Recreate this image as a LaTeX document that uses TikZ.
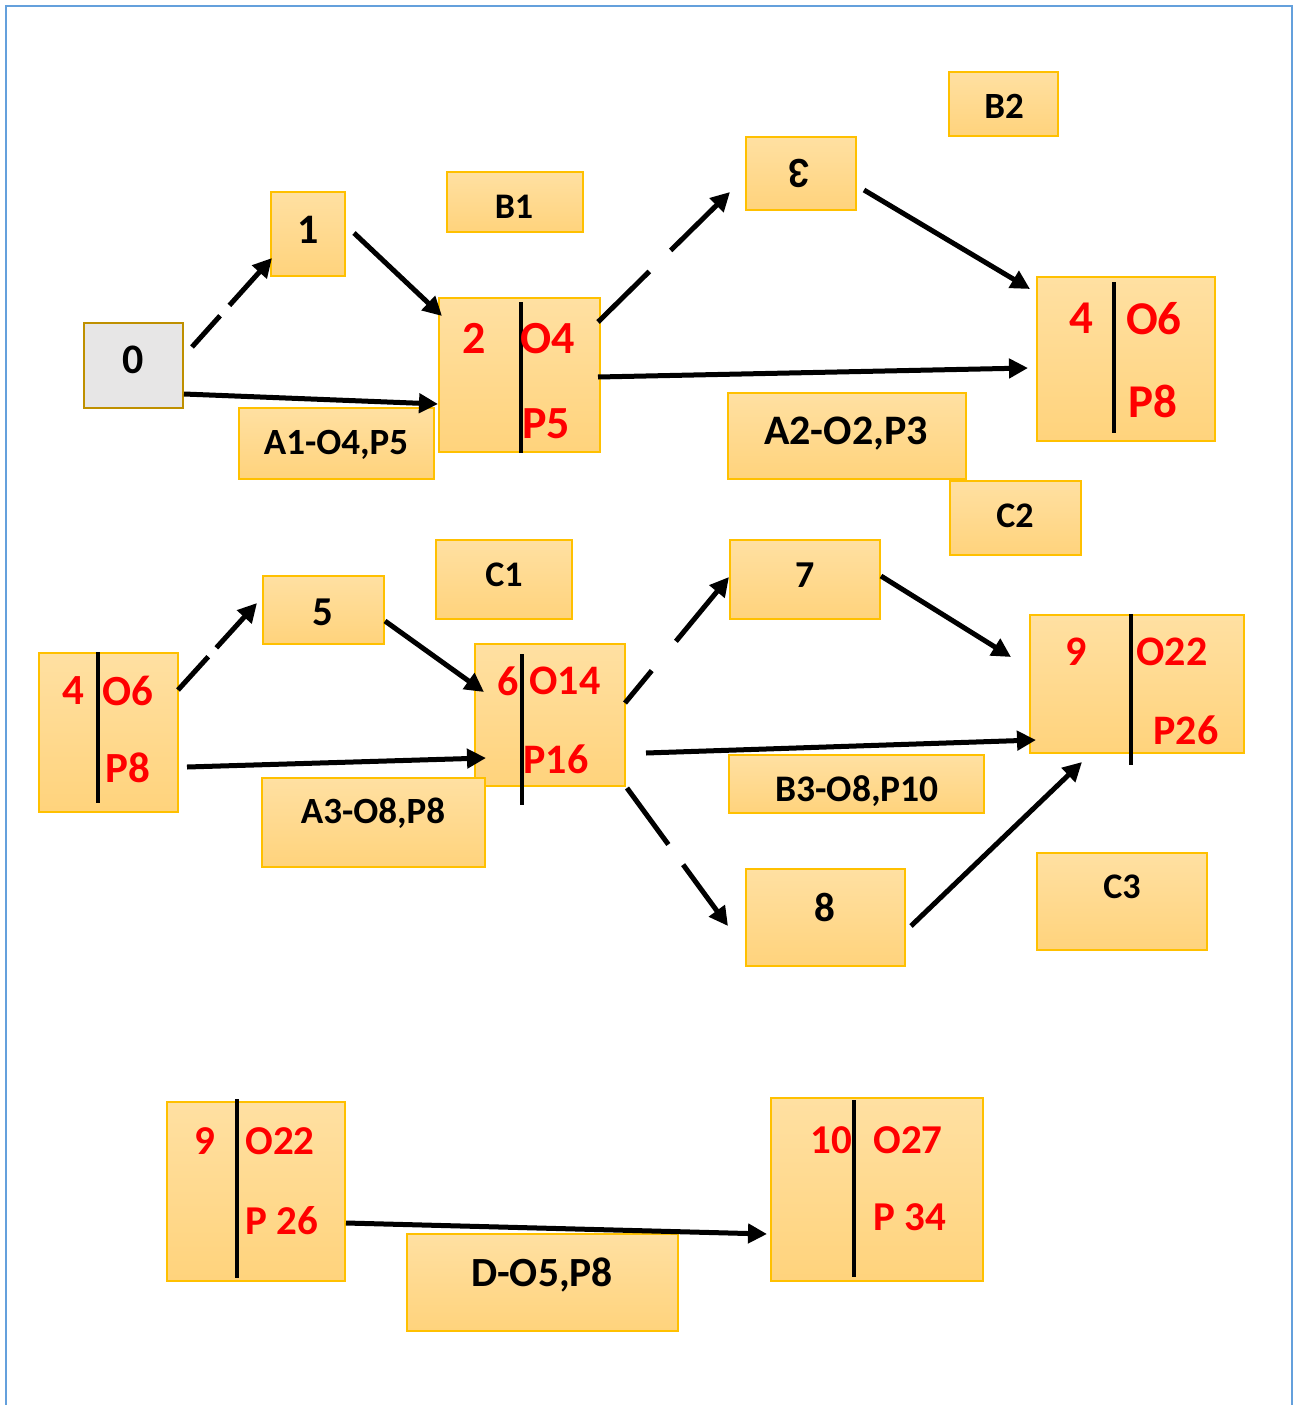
\documentclass[tikz,border=0pt]{standalone}
\usepackage{fontspec}
\setmainfont{Carlito}
\usetikzlibrary{arrows.meta,calc}
\definecolor{boxtop}{RGB}{255,224,162}
\definecolor{boxbot}{RGB}{255,211,124}
\definecolor{boxline}{RGB}{255,192,0}
\definecolor{grayfill}{RGB}{231,230,230}
\definecolor{grayline}{RGB}{191,144,0}
\definecolor{framecol}{RGB}{100,160,220}
\definecolor{redtxt}{RGB}{255,0,0}
\tikzset{
  box/.style={draw=boxline, line width=1.5pt, top color=boxtop, bottom color=boxbot, inner sep=0pt, outer sep=0pt},
  graybox/.style={draw=grayline, line width=2pt, fill=grayfill, inner sep=0pt, outer sep=0pt},
  txt/.style={inner sep=0pt, text depth=0pt, anchor=center},
  fsz/.style={font=\fontsize{#1}{#1}\selectfont\bfseries},
  redt/.style={txt, text=redtxt},
  arr/.style={line width=5pt, -{Triangle[length=19pt,width=19pt]}},
  dasharr/.style={arr, dash pattern=#1},
  divider/.style={line width=4pt, black},
}
\begin{document}
\begin{tikzpicture}[x=1pt,y=-1pt]
\useasboundingbox (0,0) rectangle (1298,1405);
\draw[framecol, line width=2.5pt] (6,1405) -- (6,6) -- (1292,6) -- (1292,1405);

% ---------- boxes ----------
\node[graybox, minimum width=99, minimum height=85] (n0) at (133.5,365.5) {};
\node[box, minimum width=74, minimum height=84] (n1) at (308,234) {};
\node[box, minimum width=136, minimum height=60] (b1) at (515,202) {};
\node[box, minimum width=195, minimum height=71] (a1) at (336.5,443.5) {};
\node[box, minimum width=161, minimum height=154] (n2) at (519.5,375) {};
\node[box, minimum width=110, minimum height=73] (n3) at (801,173.5) {};
\node[box, minimum width=109, minimum height=64] (b2) at (1003.5,104) {};
\node[box, minimum width=178, minimum height=164] (n4) at (1126,359) {};
\node[box, minimum width=238, minimum height=86] (a2) at (847,436) {};
\node[box, minimum width=131, minimum height=74] (c2) at (1015.5,518) {};

\node[box, minimum width=139, minimum height=159] (n4b) at (108.5,732.5) {};
\node[box, minimum width=121, minimum height=68] (n5) at (323.5,610) {};
\node[box, minimum width=136, minimum height=79] (c1) at (504,579.5) {};
\node[box, minimum width=150, minimum height=142] (n6) at (550,715) {};
\node[box, minimum width=223, minimum height=89] (a3) at (373.5,822.5) {};
\node[box, minimum width=150, minimum height=79] (n7) at (805,579.5) {};
\node[box, minimum width=214, minimum height=138] (n9) at (1137,684) {};
\node[box, minimum width=255, minimum height=58] (b3) at (856.5,784) {};
\node[box, minimum width=159, minimum height=97] (n8) at (825.5,917.5) {};
\node[box, minimum width=170, minimum height=97] (c3) at (1122,901.5) {};

\node[box, minimum width=178, minimum height=179] (n9b) at (256,1191.5) {};
\node[box, minimum width=212, minimum height=183] (n10) at (877,1189.5) {};
\node[box, minimum width=271, minimum height=97] (d) at (542.5,1282.5) {};

% ---------- dividers ----------
\draw[divider] ($(n2.center)+(1.5,-73)$) -- ($(n2.center)+(1.5,78)$);
\draw[divider] ($(n4.center)+(-12,-77)$) -- ($(n4.center)+(-12,74)$);
\draw[divider] ($(n4b.center)+(-10.5,-80.5)$) -- ($(n4b.center)+(-10.5,70.5)$);
\draw[divider] ($(n6.center)+(-28,-61)$) -- ($(n6.center)+(-28,90)$);
\draw[divider] ($(n9.center)+(-6,-70)$) -- ($(n9.center)+(-6,81)$);
\draw[divider] ($(n9b.center)+(-19,-92.5)$) -- ($(n9b.center)+(-19,86.5)$);
\draw[divider] ($(n10.center)+(-23,-89.5)$) -- ($(n10.center)+(-23,87.5)$);

% ---------- arrows ----------
\draw[dasharr={on 42pt off 14pt on 400pt}] ($(n0.center)+(58.5,-18.5)$) -- ($(n1.center)+(-36,24)$);
\draw[arr] ($(n1.center)+(46,-1)$) -- ($(n2.center)+(-77.5,-59)$);
\draw[arr] ($(n0.center)+(50.5,28.5)$) -- ($(n2.center)+(-81.5,29)$);
\draw[dasharr={on 72pt off 30pt on 400pt}] ($(n2.center)+(78.5,-53)$) -- ($(n3.center)+(-71,18.5)$);
\draw[arr] ($(n3.center)+(63,16.5)$) -- ($(n4.center)+(-96,-70)$);
\draw[arr] ($(n2.center)+(78.5,2)$) -- ($(n4.center)+(-98,9)$);

\draw[dasharr={on 45pt off 12pt on 400pt}] ($(n4b.center)+(69.5,-42.5)$) -- ($(n5.center)+(-66.5,-7)$);
\draw[arr] ($(n5.center)+(61.5,11)$) -- ($(n6.center)+(-66,-23)$);
\draw[arr] ($(n4b.center)+(78.5,34.5)$) -- ($(n6.center)+(-64,43)$);
\draw[dasharr={on 42pt off 38pt on 400pt}] ($(n6.center)+(75,-12)$) -- ($(n7.center)+(-76,-2.5)$);
\draw[arr] ($(n7.center)+(76,-3.5)$) -- ($(n9.center)+(-126,-27)$);
\draw[arr] ($(n6.center)+(96,38)$) -- ($(n9.center)+(-101,56)$);
\draw[dasharr={on 70pt off 25pt on 400pt}] ($(n6.center)+(77,73)$) -- ($(n8.center)+(-97.5,8.5)$);
\draw[arr] ($(n8.center)+(85.5,8.5)$) -- ($(n9.center)+(-55,78)$);

\draw[arr] ($(n9b.center)+(90,31.5)$) -- ($(n10.center)+(-110,44.5)$);

% ---------- black texts ----------
\node[txt, fsz=42pt] (t0) at (133,360) {0};
\node[txt, fsz=42pt] (t1) at (308,230) {1};
\node[txt, fsz=36pt] (tb1) at (514,207) {B1};
\node[txt, fsz=43pt, rotate=180] (t3) at (800,174) {3};
\node[txt, fsz=37pt] (tb2) at (1004,106) {B2};
\node[txt, fsz=37pt] (ta1) at (336,442) {A1-O4,P5};
\node[txt, fsz=42pt] (ta2) at (846,431) {A2-O2,P3};
\node[txt, fsz=36pt] (tc2) at (1015,516) {C2};
\node[txt, fsz=41pt] (t5) at (323,612) {5};
\node[txt, fsz=36pt] (tc1) at (504,575) {C1};
\node[txt, fsz=37pt] (ta3) at (373,811) {A3-O8,P8};
\node[txt, fsz=38pt] (t7) at (805,575) {7};
\node[txt, fsz=37.5pt] (tb3) at (857,789) {B3-O8,P10};
\node[txt, fsz=41pt] (t8) at (825,907) {8};
\node[txt, fsz=36pt] (tc3) at (1122,887) {C3};
\node[txt, fsz=41.5pt] (td) at (542,1272) {D-O5,P8};

% ---------- red texts ----------
\node[redt, fsz=46pt] (r2a) at (474,338) {2};
\node[redt, fsz=46pt] (r2b) at (548,338) {O4};
\node[redt, fsz=46pt] (r2c) at (546,424) {P5};

\node[redt, fsz=47pt] (r4a) at (1081,318) {4};
\node[redt, fsz=47pt] (r4b) at (1154,318) {O6};
\node[redt, fsz=47pt] (r4c) at (1153,401) {P8};

\node[redt, fsz=43pt] (r4ba) at (73,691) {4};
\node[redt, fsz=43pt] (r4bb) at (128,691) {O6};
\node[redt, fsz=43pt] (r4bc) at (128,768) {P8};

\node[redt, fsz=42pt] (r6a) at (508,681) {6};
\node[redt, fsz=42pt] (r6b) at (565,681) {O14};
\node[redt, fsz=42pt] (r6c) at (556,759) {P16};

\node[redt, fsz=42pt] (r9a) at (1076,652) {9};
\node[redt, fsz=42pt] (r9b) at (1172,652) {O22};
\node[redt, fsz=42pt] (r9c) at (1186,730) {P26};

\node[redt, fsz=41pt] (r9ba) at (205,1141) {9};
\node[redt, fsz=41pt] (r9bb) at (280,1141) {O22};
\node[redt, fsz=41pt] (r9bc) at (282,1220) {P 26};

\node[redt, fsz=41pt] (r10a) at (831,1140) {10};
\node[redt, fsz=41pt] (r10b) at (908,1140) {O27};
\node[redt, fsz=41pt] (r10c) at (910,1217) {P 34};
\end{tikzpicture}
\end{document}
